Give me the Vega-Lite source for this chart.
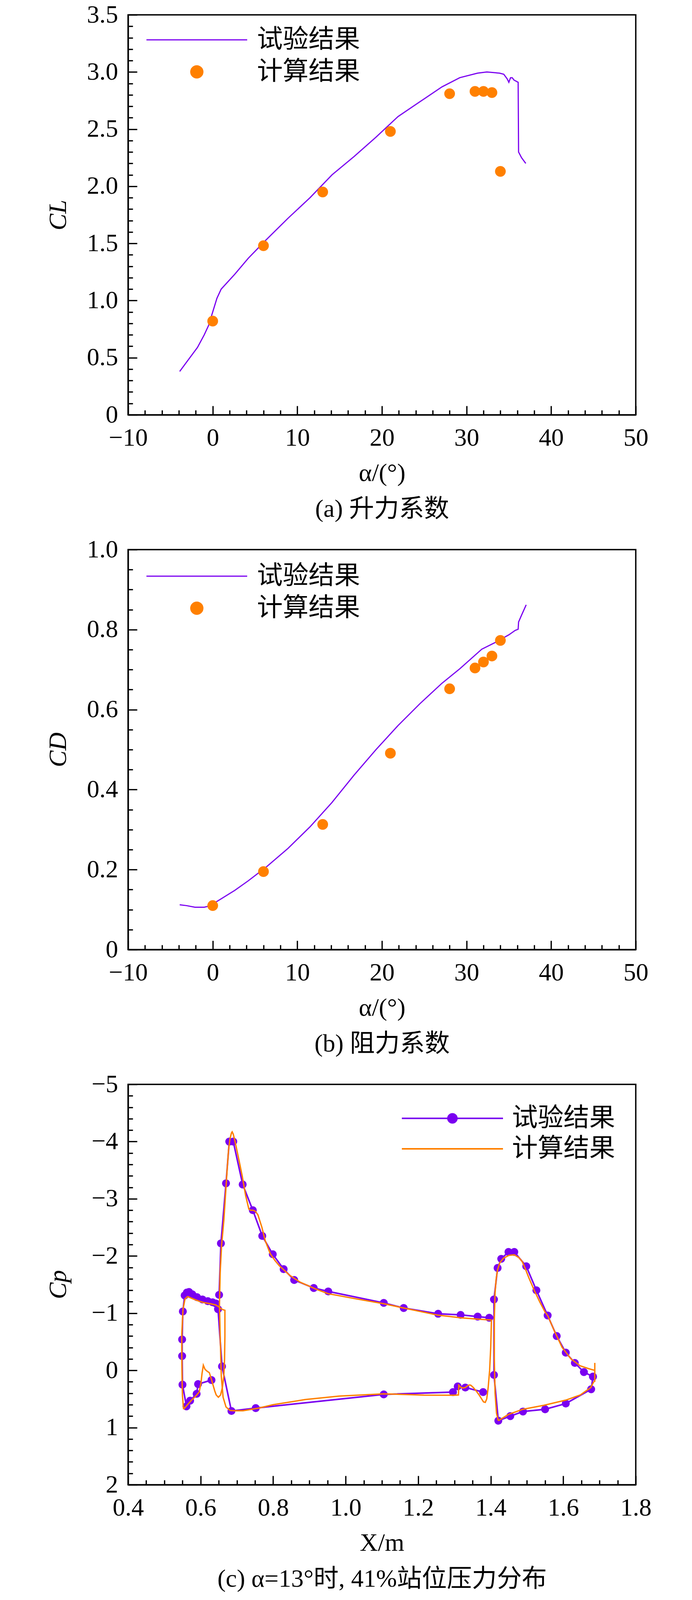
{
  "$schema": "https://vega.github.io/schema/vega-lite/v6.json",
  "background": "white",
  "autosize": {"type": "pad"},
  "padding": {"left": 115, "top": 4, "right": 10, "bottom": 8},
  "bounds": "flush",
  "spacing": 345,
  "resolve": {"scale": {"color": "independent"}, "legend": {"color": "independent"}},
  "config": {
    "view": {"stroke": "black", "strokeWidth": 3.5},
    "axis": {
      "grid": false,
      "domainColor": "black",
      "domainWidth": 3.5,
      "tickColor": "black",
      "tickWidth": 3.3,
      "labelFont": "Liberation Serif",
      "labelFontSize": 64,
      "labelColor": "black",
      "labelOverlap": false,
      "labelFlush": false,
      "labelBound": false,
      "titleFont": "Liberation Serif, Noto Sans CJK SC",
      "titleFontSize": 64,
      "titleFontWeight": "normal",
      "titleColor": "black"
    },
    "legend": {
      "labelFont": "Liberation Serif, Noto Sans CJK SC",
      "labelFontSize": 66,
      "labelColor": "black",
      "labelLimit": 0,
      "padding": 0,
      "symbolSize": 900
    }
  },
  "vconcat": [
    {
      "width": 1300,
      "height": 1024,
      "encoding": {
        "x": {
          "field": "a", "type": "quantitative",
          "scale": {"domain": [-10, 50], "nice": false, "zero": false},
          "axis": {
            "values": [-10,-8,-6,-4,-2,0,2,4,6,8,10,12,14,16,18,20,22,24,26,28,30,32,34,36,38,40,42,44,46,48,50],
            "tickSize": {"condition": {"test": "datum.value % 10 === 0", "value": -23}, "value": -12},
            "labelExpr": "datum.value % 10 === 0 ? format(datum.value, 'd') : ''",
            "labelPadding": 50,
            "title": ["α/(°)", "(a) 升力系数"],
            "titleLineHeight": 92,
            "titleBaseline": "top",
            "titleY": 117
          }
        },
        "y": {
          "field": "v", "type": "quantitative",
          "scale": {"domain": [0, 3.5], "nice": false, "zero": false},
          "axis": {
            "values": [0,0.1,0.2,0.3,0.4,0.5,0.6,0.7,0.8,0.9,1.0,1.1,1.2,1.3,1.4,1.5,1.6,1.7,1.8,1.9,2.0,2.1,2.2,2.3,2.4,2.5,2.6,2.7,2.8,2.9,3.0,3.1,3.2,3.3,3.4,3.5],
            "tickSize": {"condition": {"test": "abs(datum.value*2 - round(datum.value*2)) < 0.001", "value": -23}, "value": -12},
            "labelExpr": "abs(datum.value*2 - round(datum.value*2)) < 0.001 ? (datum.value === 0 ? '0' : format(datum.value, '.1f')) : ''",
            "labelPadding": 49,
            "title": "CL",
            "titleFontStyle": "italic",
            "titleX": -179,
            "titleY": 512,
            "titleAngle": -90,
            "titleAlign": "center",
            "titleBaseline": "middle"
          }
        },
        "color": {
          "field": "s", "type": "nominal",
          "scale": {"domain": ["试验结果", "计算结果"], "range": ["#7A00F0", "#FF8000"]},
          "legend": {
            "orient": "none", "legendX": 47, "legendY": 31, "direction": "vertical",
            "title": null, "rowPadding": 16,
            "encode": {
              "symbols": {"update": {
                "shape": {"signal": "datum.value === '试验结果' ? 'M-8.6,0H8.6' : 'M-1.033,0A1.033,1.033,0,1,1,1.033,0A1.033,1.033,0,1,1,-1.033,0Z'"},
                "size": {"value": 900},
                "x": {"value": 129},
                "fill": {"signal": "datum.value === '试验结果' ? 'transparent' : '#FF8000'"},
                "stroke": {"signal": "datum.value === '试验结果' ? '#7A00F0' : 'transparent'"},
                "strokeWidth": {"value": 3},
                "opacity": {"value": 1}
              }},
              "labels": {"update": {"x": {"value": 283}}}
            }
          }
        }
      },
      "layer": [
        {
          "data": {"values": [
            {"s":"试验结果","a":-3.9,"v":0.38},{"s":"试验结果","a":-3.1,"v":0.46},{"s":"试验结果","a":-1.8,"v":0.59},
            {"s":"试验结果","a":-1.0,"v":0.70},{"s":"试验结果","a":-0.5,"v":0.78},{"s":"试验结果","a":0.0,"v":0.90},
            {"s":"试验结果","a":0.5,"v":1.02},{"s":"试验结果","a":1.0,"v":1.10},{"s":"试验结果","a":2.6,"v":1.23},
            {"s":"试验结果","a":4.2,"v":1.37},{"s":"试验结果","a":6.3,"v":1.53},{"s":"试验结果","a":8.9,"v":1.72},
            {"s":"试验结果","a":11.5,"v":1.90},{"s":"试验结果","a":14.1,"v":2.10},{"s":"试验结果","a":16.7,"v":2.26},
            {"s":"试验结果","a":19.3,"v":2.43},{"s":"试验结果","a":21.9,"v":2.61},{"s":"试验结果","a":24.5,"v":2.74},
            {"s":"试验结果","a":27.1,"v":2.87},{"s":"试验结果","a":29.2,"v":2.95},{"s":"试验结果","a":31.3,"v":2.99},
            {"s":"试验结果","a":32.4,"v":3.0},{"s":"试验结果","a":33.9,"v":2.99},{"s":"试验结果","a":34.4,"v":2.98},
            {"s":"试验结果","a":34.8,"v":2.94},{"s":"试验结果","a":35.0,"v":2.91},{"s":"试验结果","a":35.2,"v":2.95},
            {"s":"试验结果","a":35.4,"v":2.95},{"s":"试验结果","a":35.6,"v":2.93},{"s":"试验结果","a":36.1,"v":2.91},
            {"s":"试验结果","a":36.15,"v":2.30},{"s":"试验结果","a":36.5,"v":2.25},{"s":"试验结果","a":37.0,"v":2.20}
          ]},
          "mark": {"type": "line", "strokeWidth": 3}
        },
        {
          "data": {"values": [
            {"s":"计算结果","a":0,"v":0.82},{"s":"计算结果","a":6,"v":1.48},{"s":"计算结果","a":13,"v":1.95},
            {"s":"计算结果","a":21,"v":2.48},{"s":"计算结果","a":28,"v":2.81},{"s":"计算结果","a":31,"v":2.83},
            {"s":"计算结果","a":32,"v":2.83},{"s":"计算结果","a":33,"v":2.82},{"s":"计算结果","a":34,"v":2.13}
          ]},
          "mark": {"type": "point", "filled": true, "size": 755, "opacity": 1}
        }
      ]
    },
    {
      "width": 1300,
      "height": 1024,
      "encoding": {
        "x": {
          "field": "a", "type": "quantitative",
          "scale": {"domain": [-10, 50], "nice": false, "zero": false},
          "axis": {
            "values": [-10,-8,-6,-4,-2,0,2,4,6,8,10,12,14,16,18,20,22,24,26,28,30,32,34,36,38,40,42,44,46,48,50],
            "tickSize": {"condition": {"test": "datum.value % 10 === 0", "value": -23}, "value": -12},
            "labelExpr": "datum.value % 10 === 0 ? format(datum.value, 'd') : ''",
            "labelPadding": 50,
            "title": ["α/(°)", "(b) 阻力系数"],
            "titleLineHeight": 92,
            "titleBaseline": "top",
            "titleY": 117
          }
        },
        "y": {
          "field": "v", "type": "quantitative",
          "scale": {"domain": [0, 1], "nice": false, "zero": false},
          "axis": {
            "values": [0,0.05,0.1,0.15,0.2,0.25,0.3,0.35,0.4,0.45,0.5,0.55,0.6,0.65,0.7,0.75,0.8,0.85,0.9,0.95,1.0],
            "tickSize": {"condition": {"test": "abs(datum.value*5 - round(datum.value*5)) < 0.001", "value": -23}, "value": -12},
            "labelExpr": "abs(datum.value*5 - round(datum.value*5)) < 0.001 ? (datum.value === 0 ? '0' : format(datum.value, '.1f')) : ''",
            "labelPadding": 49,
            "title": "CD",
            "titleFontStyle": "italic",
            "titleX": -179,
            "titleY": 512,
            "titleAngle": -90,
            "titleAlign": "center",
            "titleBaseline": "middle"
          }
        },
        "color": {
          "field": "s", "type": "nominal",
          "scale": {"domain": ["试验结果", "计算结果"], "range": ["#7A00F0", "#FF8000"]},
          "legend": {
            "orient": "none", "legendX": 47, "legendY": 35, "direction": "vertical",
            "title": null, "rowPadding": 16,
            "encode": {
              "symbols": {"update": {
                "shape": {"signal": "datum.value === '试验结果' ? 'M-8.6,0H8.6' : 'M-1.033,0A1.033,1.033,0,1,1,1.033,0A1.033,1.033,0,1,1,-1.033,0Z'"},
                "size": {"value": 900},
                "x": {"value": 129},
                "fill": {"signal": "datum.value === '试验结果' ? 'transparent' : '#FF8000'"},
                "stroke": {"signal": "datum.value === '试验结果' ? '#7A00F0' : 'transparent'"},
                "strokeWidth": {"value": 3},
                "opacity": {"value": 1}
              }},
              "labels": {"update": {"x": {"value": 283}}}
            }
          }
        }
      },
      "layer": [
        {
          "data": {"values": [
            {"s":"试验结果","a":-3.9,"v":0.112},{"s":"试验结果","a":-3.1,"v":0.110},{"s":"试验结果","a":-2.1,"v":0.106},
            {"s":"试验结果","a":-1.0,"v":0.106},{"s":"试验结果","a":-0.4,"v":0.109},{"s":"试验结果","a":0.0,"v":0.114},
            {"s":"试验结果","a":1.0,"v":0.127},{"s":"试验结果","a":2.6,"v":0.148},{"s":"试验结果","a":4.2,"v":0.172},
            {"s":"试验结果","a":6.3,"v":0.206},{"s":"试验结果","a":8.9,"v":0.253},{"s":"试验结果","a":11.5,"v":0.307},
            {"s":"试验结果","a":14.1,"v":0.368},{"s":"试验结果","a":16.7,"v":0.436},{"s":"试验结果","a":19.3,"v":0.500},
            {"s":"试验结果","a":21.9,"v":0.560},{"s":"试验结果","a":24.5,"v":0.615},{"s":"试验结果","a":27.1,"v":0.666},
            {"s":"试验结果","a":29.2,"v":0.702},{"s":"试验结果","a":31.8,"v":0.751},{"s":"试验结果","a":33.4,"v":0.768},
            {"s":"试验结果","a":35.0,"v":0.787},{"s":"试验结果","a":35.75,"v":0.798},{"s":"试验结果","a":36.1,"v":0.801},
            {"s":"试验结果","a":36.15,"v":0.819},{"s":"试验结果","a":36.5,"v":0.836},{"s":"试验结果","a":37.05,"v":0.862}
          ]},
          "mark": {"type": "line", "strokeWidth": 3}
        },
        {
          "data": {"values": [
            {"s":"计算结果","a":0,"v":0.110},{"s":"计算结果","a":6,"v":0.195},{"s":"计算结果","a":13,"v":0.313},
            {"s":"计算结果","a":21,"v":0.491},{"s":"计算结果","a":28,"v":0.652},{"s":"计算结果","a":31,"v":0.704},
            {"s":"计算结果","a":32,"v":0.719},{"s":"计算结果","a":33,"v":0.734},{"s":"计算结果","a":34,"v":0.773}
          ]},
          "mark": {"type": "point", "filled": true, "size": 755, "opacity": 1}
        }
      ]
    },
    {
      "width": 1300,
      "height": 1025,
      "encoding": {
        "x": {
          "field": "x", "type": "quantitative",
          "scale": {"domain": [0.4, 1.8], "nice": false, "zero": false},
          "axis": {
            "values": [0.4,0.45,0.5,0.55,0.6,0.65,0.7,0.75,0.8,0.85,0.9,0.95,1.0,1.05,1.1,1.15,1.2,1.25,1.3,1.35,1.4,1.45,1.5,1.55,1.6,1.65,1.7,1.75,1.8],
            "tickSize": {"condition": {"test": "abs(datum.value*5 - round(datum.value*5)) < 0.001", "value": -23}, "value": -12},
            "labelExpr": "abs(datum.value*5 - round(datum.value*5)) < 0.001 ? format(datum.value, '.1f') : ''",
            "labelPadding": 50,
            "title": ["X/m", "(c) α=13°时, 41%站位压力分布"],
            "titleLineHeight": 92,
            "titleBaseline": "top",
            "titleY": 117
          }
        },
        "y": {
          "field": "cp", "type": "quantitative",
          "scale": {"domain": [-5, 2], "nice": false, "zero": false, "reverse": true},
          "axis": {
            "values": [-5,-4.8,-4.6,-4.4,-4.2,-4,-3.8,-3.6,-3.4,-3.2,-3,-2.8,-2.6,-2.4,-2.2,-2,-1.8,-1.6,-1.4,-1.2,-1,-0.8,-0.6,-0.4,-0.2,0,0.2,0.4,0.6,0.8,1,1.2,1.4,1.6,1.8,2],
            "tickSize": {"condition": {"test": "abs(datum.value - round(datum.value)) < 0.001", "value": -23}, "value": -12},
            "labelExpr": "abs(datum.value - round(datum.value)) < 0.001 ? format(round(datum.value), 'd') : ''",
            "labelPadding": 49,
            "title": "Cp",
            "titleFontStyle": "italic",
            "titleX": -179,
            "titleY": 512,
            "titleAngle": -90,
            "titleAlign": "center",
            "titleBaseline": "middle"
          }
        },
        "color": {
          "field": "s", "type": "nominal",
          "scale": {"domain": ["试验结果", "计算结果"], "range": ["#7A00F0", "#FF8000"]},
          "legend": {
            "orient": "none", "legendX": 701, "legendY": 54, "direction": "vertical",
            "title": null, "rowPadding": 12,
            "encode": {
              "symbols": {"update": {
                "shape": {"signal": "datum.value === '试验结果' ? 'M-8.633,0H8.633M-0.767,0A0.767,0.767,0,1,1,0.767,0A0.767,0.767,0,1,1,-0.767,0Z' : 'M-8.633,0H8.633'"},
                "size": {"value": 900},
                "x": {"value": 129.5},
                "fill": {"signal": "datum.value === '试验结果' ? '#7A00F0' : 'transparent'"},
                "stroke": {"signal": "datum.value === '试验结果' ? '#7A00F0' : '#FF8000'"},
                "strokeWidth": {"value": 4},
                "opacity": {"value": 1}
              }},
              "labels": {"update": {"x": {"value": 282}}}
            }
          }
        },
        "detail": {"field": "g", "type": "nominal"},
        "order": {"field": "i", "type": "quantitative"}
      },
      "layer": [
        {
          "data": {"values": [
            {"s":"试验结果","g":"s","i":1,"x":0.630,"cp":0.17},{"s":"试验结果","g":"s","i":2,"x":0.593,"cp":0.24},
            {"s":"试验结果","g":"s","i":3,"x":0.589,"cp":0.41},{"s":"试验结果","g":"s","i":4,"x":0.571,"cp":0.53},
            {"s":"试验结果","g":"s","i":5,"x":0.561,"cp":0.63},{"s":"试验结果","g":"s","i":6,"x":0.550,"cp":0.25},
            {"s":"试验结果","g":"s","i":7,"x":0.549,"cp":-0.25},{"s":"试验结果","g":"s","i":8,"x":0.549,"cp":-0.54},
            {"s":"试验结果","g":"s","i":9,"x":0.551,"cp":-1.03},{"s":"试验结果","g":"s","i":10,"x":0.556,"cp":-1.31},
            {"s":"试验结果","g":"s","i":11,"x":0.562,"cp":-1.36},{"s":"试验结果","g":"s","i":12,"x":0.568,"cp":-1.37},
            {"s":"试验结果","g":"s","i":13,"x":0.577,"cp":-1.33},{"s":"试验结果","g":"s","i":14,"x":0.590,"cp":-1.28},
            {"s":"试验结果","g":"s","i":15,"x":0.605,"cp":-1.24},{"s":"试验结果","g":"s","i":16,"x":0.620,"cp":-1.21},
            {"s":"试验结果","g":"s","i":17,"x":0.633,"cp":-1.19},{"s":"试验结果","g":"s","i":18,"x":0.642,"cp":-1.17},
            {"s":"试验结果","g":"s","i":19,"x":0.648,"cp":-1.07},{"s":"试验结果","g":"s","i":20,"x":0.659,"cp":-0.07},
            {"s":"试验结果","g":"s","i":21,"x":0.685,"cp":0.71},{"s":"试验结果","g":"s","i":22,"x":0.752,"cp":0.66},
            {"s":"试验结果","g":"s","i":23,"x":1.105,"cp":0.42},{"s":"试验结果","g":"s","i":24,"x":1.296,"cp":0.38},
            {"s":"试验结果","g":"s","i":25,"x":1.309,"cp":0.28},{"s":"试验结果","g":"s","i":26,"x":1.330,"cp":0.30},
            {"s":"试验结果","g":"s","i":27,"x":1.379,"cp":0.38},
            {"s":"试验结果","g":"m","i":1,"x":0.651,"cp":-1.32},{"s":"试验结果","g":"m","i":2,"x":0.656,"cp":-2.22},
            {"s":"试验结果","g":"m","i":3,"x":0.670,"cp":-3.27},{"s":"试验结果","g":"m","i":4,"x":0.679,"cp":-4.00},
            {"s":"试验结果","g":"m","i":5,"x":0.690,"cp":-4.00},{"s":"试验结果","g":"m","i":6,"x":0.716,"cp":-3.25},
            {"s":"试验结果","g":"m","i":7,"x":0.744,"cp":-2.80},{"s":"试验结果","g":"m","i":8,"x":0.770,"cp":-2.35},
            {"s":"试验结果","g":"m","i":9,"x":0.799,"cp":-2.03},{"s":"试验结果","g":"m","i":10,"x":0.829,"cp":-1.77},
            {"s":"试验结果","g":"m","i":11,"x":0.858,"cp":-1.58},{"s":"试验结果","g":"m","i":12,"x":0.912,"cp":-1.44},
            {"s":"试验结果","g":"m","i":13,"x":0.952,"cp":-1.38},{"s":"试验结果","g":"m","i":14,"x":1.105,"cp":-1.18},
            {"s":"试验结果","g":"m","i":15,"x":1.160,"cp":-1.09},{"s":"试验结果","g":"m","i":16,"x":1.255,"cp":-0.99},
            {"s":"试验结果","g":"m","i":17,"x":1.317,"cp":-0.97},{"s":"试验结果","g":"m","i":18,"x":1.364,"cp":-0.94},
            {"s":"试验结果","g":"m","i":19,"x":1.396,"cp":-0.92},
            {"s":"试验结果","g":"f","i":1,"x":1.682,"cp":0.11},{"s":"试验结果","g":"f","i":2,"x":1.677,"cp":0.33},
            {"s":"试验结果","g":"f","i":3,"x":1.607,"cp":0.58},{"s":"试验结果","g":"f","i":4,"x":1.550,"cp":0.68},
            {"s":"试验结果","g":"f","i":5,"x":1.489,"cp":0.72},{"s":"试验结果","g":"f","i":6,"x":1.454,"cp":0.80},
            {"s":"试验结果","g":"f","i":7,"x":1.421,"cp":0.88},{"s":"试验结果","g":"f","i":8,"x":1.409,"cp":0.08},
            {"s":"试验结果","g":"f","i":9,"x":1.409,"cp":-1.24},{"s":"试验结果","g":"f","i":10,"x":1.419,"cp":-1.79},
            {"s":"试验结果","g":"f","i":11,"x":1.429,"cp":-1.95},{"s":"试验结果","g":"f","i":12,"x":1.449,"cp":-2.07},
            {"s":"试验结果","g":"f","i":13,"x":1.465,"cp":-2.07},{"s":"试验结果","g":"f","i":14,"x":1.498,"cp":-1.82},
            {"s":"试验结果","g":"f","i":15,"x":1.526,"cp":-1.40},{"s":"试验结果","g":"f","i":16,"x":1.557,"cp":-0.96},
            {"s":"试验结果","g":"f","i":17,"x":1.582,"cp":-0.60},{"s":"试验结果","g":"f","i":18,"x":1.607,"cp":-0.31},
            {"s":"试验结果","g":"f","i":19,"x":1.632,"cp":-0.13},{"s":"试验结果","g":"f","i":20,"x":1.657,"cp":0.03},
            {"s":"试验结果","g":"f","i":21,"x":1.682,"cp":0.11}
          ]},
          "mark": {"type": "line", "strokeWidth": 4, "point": {"filled": true, "size": 415, "opacity": 1}}
        },
        {
          "data": {"values": [
            {"s":"计算结果","g":"os","i":1,"x":0.553,"cp":0.68},{"s":"计算结果","g":"os","i":2,"x":0.550,"cp":0.45},
            {"s":"计算结果","g":"os","i":3,"x":0.549,"cp":0.20},{"s":"计算结果","g":"os","i":4,"x":0.548,"cp":-0.30},
            {"s":"计算结果","g":"os","i":5,"x":0.548,"cp":-0.63},{"s":"计算结果","g":"os","i":6,"x":0.5515,"cp":-1.07},
            {"s":"计算结果","g":"os","i":7,"x":0.557,"cp":-1.25},{"s":"计算结果","g":"os","i":8,"x":0.564,"cp":-1.29},
            {"s":"计算结果","g":"os","i":9,"x":0.568,"cp":-1.28},{"s":"计算结果","g":"os","i":10,"x":0.577,"cp":-1.255},
            {"s":"计算结果","g":"os","i":11,"x":0.595,"cp":-1.21},{"s":"计算结果","g":"os","i":12,"x":0.609,"cp":-1.185},
            {"s":"计算结果","g":"os","i":13,"x":0.627,"cp":-1.165},{"s":"计算结果","g":"os","i":14,"x":0.641,"cp":-1.145},
            {"s":"计算结果","g":"os","i":15,"x":0.648,"cp":-1.12},{"s":"计算结果","g":"os","i":16,"x":0.656,"cp":-1.08},
            {"s":"计算结果","g":"os","i":17,"x":0.662,"cp":-1.06},{"s":"计算结果","g":"os","i":18,"x":0.667,"cp":-1.05},
            {"s":"计算结果","g":"os","i":19,"x":0.667,"cp":-0.60},{"s":"计算结果","g":"os","i":20,"x":0.666,"cp":-0.20},
            {"s":"计算结果","g":"os","i":21,"x":0.664,"cp":0.10},{"s":"计算结果","g":"os","i":22,"x":0.660,"cp":0.30},
            {"s":"计算结果","g":"os","i":23,"x":0.655,"cp":0.43},{"s":"计算结果","g":"os","i":24,"x":0.649,"cp":0.47},
            {"s":"计算结果","g":"os","i":25,"x":0.643,"cp":0.43},{"s":"计算结果","g":"os","i":26,"x":0.639,"cp":0.36},
            {"s":"计算结果","g":"os","i":27,"x":0.634,"cp":0.25},{"s":"计算结果","g":"os","i":28,"x":0.630,"cp":0.16},
            {"s":"计算结果","g":"os","i":29,"x":0.624,"cp":0.04},{"s":"计算结果","g":"os","i":30,"x":0.617,"cp":0.01},
            {"s":"计算结果","g":"os","i":31,"x":0.612,"cp":-0.02},{"s":"计算结果","g":"os","i":32,"x":0.6075,"cp":-0.09},
            {"s":"计算结果","g":"os","i":33,"x":0.604,"cp":0.05},{"s":"计算结果","g":"os","i":34,"x":0.601,"cp":0.22},
            {"s":"计算结果","g":"os","i":35,"x":0.596,"cp":0.38},{"s":"计算结果","g":"os","i":36,"x":0.585,"cp":0.46},
            {"s":"计算结果","g":"os","i":37,"x":0.575,"cp":0.52},{"s":"计算结果","g":"os","i":38,"x":0.564,"cp":0.60},
            {"s":"计算结果","g":"os","i":39,"x":0.553,"cp":0.68},
            {"s":"计算结果","g":"om","i":1,"x":0.681,"cp":0.70},{"s":"计算结果","g":"om","i":2,"x":0.670,"cp":0.64},
            {"s":"计算结果","g":"om","i":3,"x":0.662,"cp":0.47},{"s":"计算结果","g":"om","i":4,"x":0.657,"cp":0.10},
            {"s":"计算结果","g":"om","i":5,"x":0.654,"cp":-0.60},{"s":"计算结果","g":"om","i":6,"x":0.652,"cp":-1.15},
            {"s":"计算结果","g":"om","i":7,"x":0.654,"cp":-1.72},{"s":"计算结果","g":"om","i":8,"x":0.658,"cp":-2.20},
            {"s":"计算结果","g":"om","i":9,"x":0.664,"cp":-2.62},{"s":"计算结果","g":"om","i":10,"x":0.669,"cp":-3.10},
            {"s":"计算结果","g":"om","i":11,"x":0.673,"cp":-3.50},{"s":"计算结果","g":"om","i":12,"x":0.677,"cp":-3.85},
            {"s":"计算结果","g":"om","i":13,"x":0.681,"cp":-4.05},{"s":"计算结果","g":"om","i":14,"x":0.685,"cp":-4.15},
            {"s":"计算结果","g":"om","i":15,"x":0.687,"cp":-4.17},{"s":"计算结果","g":"om","i":16,"x":0.690,"cp":-4.13},
            {"s":"计算结果","g":"om","i":17,"x":0.695,"cp":-4.00},{"s":"计算结果","g":"om","i":18,"x":0.700,"cp":-3.85},
            {"s":"计算结果","g":"om","i":19,"x":0.706,"cp":-3.67},{"s":"计算结果","g":"om","i":20,"x":0.715,"cp":-3.39},
            {"s":"计算结果","g":"om","i":21,"x":0.724,"cp":-3.06},{"s":"计算结果","g":"om","i":22,"x":0.733,"cp":-2.82},
            {"s":"计算结果","g":"om","i":23,"x":0.738,"cp":-2.80},{"s":"计算结果","g":"om","i":24,"x":0.745,"cp":-2.80},
            {"s":"计算结果","g":"om","i":25,"x":0.751,"cp":-2.78},{"s":"计算结果","g":"om","i":26,"x":0.758,"cp":-2.72},
            {"s":"计算结果","g":"om","i":27,"x":0.763,"cp":-2.62},{"s":"计算结果","g":"om","i":28,"x":0.769,"cp":-2.50},
            {"s":"计算结果","g":"om","i":29,"x":0.778,"cp":-2.27},{"s":"计算结果","g":"om","i":30,"x":0.792,"cp":-2.04},
            {"s":"计算结果","g":"om","i":31,"x":0.805,"cp":-1.92},{"s":"计算结果","g":"om","i":32,"x":0.817,"cp":-1.83},
            {"s":"计算结果","g":"om","i":33,"x":0.846,"cp":-1.66},{"s":"计算结果","g":"om","i":34,"x":0.875,"cp":-1.54},
            {"s":"计算结果","g":"om","i":35,"x":0.918,"cp":-1.42},{"s":"计算结果","g":"om","i":36,"x":0.952,"cp":-1.34},
            {"s":"计算结果","g":"om","i":37,"x":1.029,"cp":-1.25},{"s":"计算结果","g":"om","i":38,"x":1.105,"cp":-1.165},
            {"s":"计算结果","g":"om","i":39,"x":1.160,"cp":-1.09},{"s":"计算结果","g":"om","i":40,"x":1.255,"cp":-0.965},
            {"s":"计算结果","g":"om","i":41,"x":1.317,"cp":-0.92},{"s":"计算结果","g":"om","i":42,"x":1.364,"cp":-0.895},
            {"s":"计算结果","g":"om","i":43,"x":1.402,"cp":-0.88},{"s":"计算结果","g":"om","i":44,"x":1.400,"cp":-0.40},
            {"s":"计算结果","g":"om","i":45,"x":1.397,"cp":0.00},{"s":"计算结果","g":"om","i":46,"x":1.393,"cp":0.30},
            {"s":"计算结果","g":"om","i":47,"x":1.389,"cp":0.50},{"s":"计算结果","g":"om","i":48,"x":1.385,"cp":0.56},
            {"s":"计算结果","g":"om","i":49,"x":1.380,"cp":0.55},{"s":"计算结果","g":"om","i":50,"x":1.374,"cp":0.49},
            {"s":"计算结果","g":"om","i":51,"x":1.368,"cp":0.43},{"s":"计算结果","g":"om","i":52,"x":1.360,"cp":0.36},
            {"s":"计算结果","g":"om","i":53,"x":1.352,"cp":0.30},{"s":"计算结果","g":"om","i":54,"x":1.345,"cp":0.26},
            {"s":"计算结果","g":"om","i":55,"x":1.341,"cp":0.255},{"s":"计算结果","g":"om","i":56,"x":1.336,"cp":0.27},
            {"s":"计算结果","g":"om","i":57,"x":1.330,"cp":0.30},{"s":"计算结果","g":"om","i":58,"x":1.323,"cp":0.31},
            {"s":"计算结果","g":"om","i":59,"x":1.316,"cp":0.29},{"s":"计算结果","g":"om","i":60,"x":1.312,"cp":0.26},
            {"s":"计算结果","g":"om","i":61,"x":1.311,"cp":0.43},{"s":"计算结果","g":"om","i":62,"x":1.300,"cp":0.435},
            {"s":"计算结果","g":"om","i":63,"x":1.216,"cp":0.432},{"s":"计算结果","g":"om","i":64,"x":1.105,"cp":0.41},
            {"s":"计算结果","g":"om","i":65,"x":0.982,"cp":0.45},{"s":"计算结果","g":"om","i":66,"x":0.889,"cp":0.51},
            {"s":"计算结果","g":"om","i":67,"x":0.800,"cp":0.60},{"s":"计算结果","g":"om","i":68,"x":0.760,"cp":0.66},
            {"s":"计算结果","g":"om","i":69,"x":0.717,"cp":0.706},{"s":"计算结果","g":"om","i":70,"x":0.692,"cp":0.706},
            {"s":"计算结果","g":"om","i":71,"x":0.681,"cp":0.70},
            {"s":"计算结果","g":"of","i":1,"x":1.421,"cp":0.88},{"s":"计算结果","g":"of","i":2,"x":1.416,"cp":0.75},
            {"s":"计算结果","g":"of","i":3,"x":1.412,"cp":0.40},{"s":"计算结果","g":"of","i":4,"x":1.410,"cp":-0.20},
            {"s":"计算结果","g":"of","i":5,"x":1.410,"cp":-0.90},{"s":"计算结果","g":"of","i":6,"x":1.412,"cp":-1.35},
            {"s":"计算结果","g":"of","i":7,"x":1.415,"cp":-1.60},{"s":"计算结果","g":"of","i":8,"x":1.419,"cp":-1.76},
            {"s":"计算结果","g":"of","i":9,"x":1.425,"cp":-1.88},{"s":"计算结果","g":"of","i":10,"x":1.435,"cp":-1.96},
            {"s":"计算结果","g":"of","i":11,"x":1.450,"cp":-2.01},{"s":"计算结果","g":"of","i":12,"x":1.465,"cp":-2.02},
            {"s":"计算结果","g":"of","i":13,"x":1.478,"cp":-1.97},{"s":"计算结果","g":"of","i":14,"x":1.487,"cp":-1.90},
            {"s":"计算结果","g":"of","i":15,"x":1.494,"cp":-1.80},{"s":"计算结果","g":"of","i":16,"x":1.505,"cp":-1.62},
            {"s":"计算结果","g":"of","i":17,"x":1.520,"cp":-1.40},{"s":"计算结果","g":"of","i":18,"x":1.535,"cp":-1.20},
            {"s":"计算结果","g":"of","i":19,"x":1.550,"cp":-1.02},{"s":"计算结果","g":"of","i":20,"x":1.5577,"cp":-0.95},
            {"s":"计算结果","g":"of","i":21,"x":1.5755,"cp":-0.69},{"s":"计算结果","g":"of","i":22,"x":1.597,"cp":-0.40},
            {"s":"计算结果","g":"of","i":23,"x":1.6214,"cp":-0.20},{"s":"计算结果","g":"of","i":24,"x":1.6465,"cp":-0.08},
            {"s":"计算结果","g":"of","i":25,"x":1.670,"cp":-0.03},{"s":"计算结果","g":"of","i":26,"x":1.687,"cp":0.00},
            {"s":"计算结果","g":"of","i":27,"x":1.687,"cp":-0.13},{"s":"计算结果","g":"of","i":28,"x":1.687,"cp":0.19},
            {"s":"计算结果","g":"of","i":29,"x":1.684,"cp":0.20},{"s":"计算结果","g":"of","i":30,"x":1.676,"cp":0.30},
            {"s":"计算结果","g":"of","i":31,"x":1.647,"cp":0.43},{"s":"计算结果","g":"of","i":32,"x":1.607,"cp":0.52},
            {"s":"计算结果","g":"of","i":33,"x":1.547,"cp":0.61},{"s":"计算结果","g":"of","i":34,"x":1.489,"cp":0.68},
            {"s":"计算结果","g":"of","i":35,"x":1.449,"cp":0.77},{"s":"计算结果","g":"of","i":36,"x":1.421,"cp":0.88}
          ]},
          "mark": {"type": "line", "strokeWidth": 3.5}
        }
      ]
    }
  ]
}
